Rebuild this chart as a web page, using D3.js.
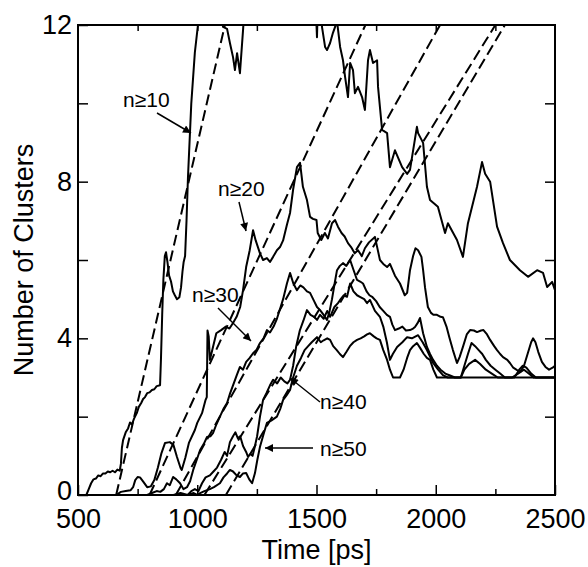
<!DOCTYPE html>
<html lang="en">
<head>
    <meta charset="UTF-8">
    <script src="https://cdn.jsdelivr.net/npm/d3@7"></script>
    <title>Number of Clusters</title>
    <style>
        body { margin: 0; background: #fff; }
        svg { display: block; font-family: "Liberation Sans", Arial, sans-serif; }
        .curve { fill: none; stroke: #000; stroke-width: 2px; stroke-linejoin: round; }
        .fit { fill: none; stroke: #000; stroke-width: 2px; stroke-dasharray: 11 5; }
        .frame { fill: none; stroke: #000; stroke-width: 2px; }
        .tick line { stroke: #000; stroke-width: 1.5px; }
    </style>
</head>
<body>
<script>
    /*------------------- data --------------------*/
    // time [ps], number of clusters
    const n10 = [[535,0],[545,0.15],[555,0.3],[565,0.4],[575,0.42],[585,0.5],[595,0.48],[605,0.55],[615,0.55],[625,0.6],
        [635,0.58],[645,0.62],[655,0.58],[665,0.65],[675,0.62],[680,0.8],[684,1.2],[689,1.4],[700,1.6],[710,1.7],[718,1.85],
        [726,1.8],[735,1.95],[747,2.1],[755,2.25],[765,2.35],[773,2.45],[781,2.5],[790,2.6],[800,2.62],[810,2.68],[820,2.7],
        [830,2.78],[844,2.8],[848,3.5],[853,4.6],[858,5.5],[864,6.1],[869,6.2],[875,5.95],[882,5.6],[890,5.45],[898,5.2],
        [906,5.1],[915,5.0],[925,5.05],[932,5.3],[938,5.7],[943,5.95],[949,6.1],[955,7.0],[961,8.1],[975,10.0],[990,11.3],
        [1003,12.0],[1008,12.6],[1100,12.6],[1108,11.95],[1125,11.9],[1137,11.54],[1150,11.18],[1158,10.85],[1167,11.28],
        [1179,10.77],[1192,11.87],[1200,12.6],[1496,12.6],[1502,11.69],[1506,12.6],[1518,12.4],[1523,11.95],[1536,11.44],
        [1544,11.36],[1557,11.54],[1569,11.8],[1578,11.95],[1586,12.1],[1599,11.44],[1611,11.1],[1620,10.67],[1632,10.16],
        [1641,11.03],[1653,10.85],[1661,10.26],[1674,10.42],[1691,10.16],[1703,9.83],[1716,11.1],[1724,11.36],[1737,11.03],
        [1754,11.1],[1758,10.42],[1775,9.32],[1796,9.24],[1808,8.37],[1829,8.8],[1859,8.37],[1880,8.2],[1892,8.3],[1921,9.4],
        [1926,9.24],[1947,8.99],[1963,7.87],[1976,7.53],[2009,7.36],[2039,6.69],[2051,6.94],[2089,6.51],[2114,6.08],[2135,6.94],
        [2173,7.87],[2194,8.5],[2207,8.2],[2228,8.0],[2257,6.85],[2282,6.43],[2311,6.0],[2353,5.74],[2387,5.57],[2425,5.74],
        [2450,5.67],[2467,5.31],[2488,5.44],[2500,5.23]];

    const n20 = [[660,0],[680,0.08],[700,0.1],[720,0.12],[731,0.2],[740,0.38],[750,0.46],[760,0.45],[775,0.33],[790,0.2],
        [805,0.22],[820,0.38],[835,0.7],[850,1.07],[865,1.33],[885,1.35],[900,1.28],[915,0.97],[930,0.69],[935,0.64],[950,0.95],
        [965,1.33],[990,1.66],[1000,1.84],[1020,2.09],[1035,2.43],[1040,2.5],[1043,4.2],[1048,4.05],[1053,3.45],[1063,3.7],
        [1080,4.13],[1100,4.21],[1120,4.3],[1135,4.25],[1150,4.39],[1165,4.55],[1180,4.8],[1192,5.23],[1205,5.82],[1220,6.25],
        [1234,6.76],[1245,6.5],[1263,6.17],[1276,6.0],[1292,6.05],[1305,5.95],[1318,6.08],[1334,6.25],[1347,6.33],[1360,6.5],
        [1376,6.9],[1389,7.2],[1402,7.8],[1418,8.37],[1431,8.48],[1443,7.87],[1460,7.53],[1473,7.1],[1485,7.05],[1500,7.02],
        [1505,6.69],[1520,6.51],[1535,6.69],[1548,6.55],[1565,6.94],[1578,7.02],[1590,6.85],[1605,6.69],[1618,6.6],[1632,6.43],
        [1645,6.33],[1660,6.17],[1674,6.25],[1690,6.1],[1703,6.3],[1720,6.45],[1745,6.59],[1766,6.0],[1780,5.9],[1796,5.82],
        [1808,5.9],[1829,5.6],[1850,5.4],[1870,5.1],[1880,5.16],[1892,5.74],[1905,6.1],[1915,6.3],[1926,6.25],[1940,6.08],
        [1947,5.74],[1955,5.3],[1967,4.8],[1980,4.65],[1990,4.6],[2005,4.6],[2020,4.55],[2030,4.54],[2045,4.3],[2058,4.0],
        [2072,3.7],[2089,3.37],[2100,3.52],[2115,3.8],[2130,4.1],[2144,4.21],[2160,4.2],[2173,4.16],[2190,4.2],[2200,4.21],
        [2215,4.1],[2228,3.96],[2245,3.8],[2257,3.7],[2270,3.6],[2282,3.52],[2300,3.45],[2311,3.37],[2325,3.25],[2341,3.19],
        [2355,3.15],[2370,3.3],[2385,3.6],[2400,3.9],[2408,4.0],[2418,3.9],[2430,3.65],[2445,3.4],[2460,3.27],[2475,3.2],
        [2490,3.25],[2500,3.3]];

    const n30 = [[790,0],[810,0.05],[830,0.1],[845,0.08],[860,0.15],[873,0.3],[885,0.25],[899,0.46],[912,0.4],[928,0.3],
        [942,0.15],[957,0.2],[970,0.35],[983,0.64],[998,0.9],[1012,1.15],[1027,1.3],[1041,1.48],[1055,1.5],[1066,1.58],
        [1080,1.8],[1095,2.0],[1110,2.2],[1125,2.35],[1138,2.6],[1150,2.8],[1165,3.05],[1179,3.27],[1192,3.2],[1205,3.4],
        [1220,3.5],[1234,3.62],[1248,3.7],[1263,3.88],[1278,4.0],[1292,4.21],[1305,4.15],[1320,4.3],[1334,4.5],[1347,4.75],
        [1360,5.0],[1376,5.4],[1389,5.67],[1403,5.4],[1418,5.23],[1432,5.35],[1445,5.3],[1460,5.2],[1473,5.16],[1490,4.95],
        [1502,4.8],[1515,4.72],[1530,4.6],[1544,4.47],[1555,4.7],[1565,5.0],[1576,5.4],[1586,5.74],[1598,5.85],[1611,5.92],
        [1625,5.85],[1641,6.0],[1655,5.75],[1670,5.49],[1683,5.45],[1695,5.4],[1710,5.2],[1722,5.1],[1735,5.05],[1750,4.95],
        [1765,4.8],[1780,4.7],[1795,4.6],[1808,4.55],[1818,4.35],[1829,4.21],[1845,4.25],[1860,4.3],[1875,4.2],[1892,4.21],
        [1905,4.25],[1913,4.29],[1925,4.4],[1934,4.52],[1947,4.13],[1963,3.78],[1976,3.6],[1989,3.45],[2005,3.3],[2020,3.2],
        [2040,3.1],[2060,3.05],[2080,3.0],[2105,3.0],[2120,3.3],[2135,3.6],[2150,3.88],[2165,3.8],[2180,3.7],[2195,3.6],
        [2210,3.45],[2230,3.3],[2250,3.2],[2270,3.1],[2290,3.0],[2330,3.0],[2350,3.2],[2365,3.3],[2380,3.25],[2400,3.1],
        [2420,3.0],[2500,3.0]];

    const n40 = [[900,0],[930,0.05],[960,0.0],[975,0.1],[990,0.15],[1005,0.1],[1020,0.3],[1035,0.45],[1053,0.5],[1068,0.6],
        [1083,0.7],[1100,0.9],[1115,1.1],[1125,1.0],[1137,1.35],[1150,1.5],[1160,1.6],[1170,1.45],[1180,1.5],[1192,1.25],
        [1205,1.1],[1213,0.97],[1222,1.05],[1232,1.0],[1240,1.2],[1251,1.5],[1263,2.0],[1276,2.43],[1290,2.6],[1305,2.8],
        [1318,2.94],[1335,2.85],[1350,3.0],[1365,2.9],[1378,2.85],[1389,2.94],[1402,3.3],[1415,3.8],[1430,4.2],[1445,4.45],
        [1460,4.72],[1475,4.6],[1490,4.55],[1502,4.47],[1515,4.6],[1530,4.5],[1545,4.7],[1557,4.55],[1575,4.8],[1590,4.9],
        [1599,4.98],[1614,5.1],[1628,5.06],[1641,5.4],[1655,5.2],[1670,5.1],[1682,5.06],[1700,5.0],[1712,4.9],[1724,4.98],
        [1745,4.7],[1766,4.55],[1780,4.3],[1795,3.9],[1808,3.45],[1820,3.6],[1838,3.78],[1860,3.9],[1880,4.03],[1900,4.0],
        [1926,4.08],[1945,3.9],[1963,3.7],[1975,3.55],[1989,3.37],[2010,3.2],[2030,3.06],[2050,3.0],[2105,3.0],[2120,3.2],
        [2140,3.35],[2165,3.45],[2185,3.35],[2210,3.2],[2235,3.1],[2260,3.0],[2320,3.0],[2345,3.1],[2370,3.2],[2390,3.1],
        [2410,3.0],[2500,3.0]];

    const n50 = [[960,0],[985,0.05],[1000,0.0],[1012,0.05],[1030,0.1],[1053,0.15],[1070,0.2],[1095,0.3],[1110,0.45],
        [1125,0.55],[1137,0.64],[1150,0.6],[1165,0.5],[1179,0.46],[1192,0.55],[1205,0.56],[1218,0.4],[1230,0.3],[1242,0.56],
        [1252,0.9],[1263,1.23],[1278,1.55],[1292,1.84],[1310,1.9],[1334,2.0],[1348,2.2],[1360,2.43],[1375,2.55],[1389,2.68],
        [1402,3.0],[1418,3.3],[1435,3.5],[1450,3.7],[1465,3.8],[1480,3.9],[1502,4.03],[1518,3.9],[1530,3.95],[1545,4.0],
        [1557,3.96],[1570,3.8],[1585,3.7],[1598,3.6],[1611,3.52],[1625,3.65],[1640,3.8],[1655,3.9],[1670,3.96],[1685,4.0],
        [1700,4.05],[1712,4.1],[1724,4.13],[1740,4.05],[1752,4.0],[1766,3.96],[1780,3.7],[1796,3.45],[1808,3.2],[1821,3.0],
        [1850,3.0],[1865,3.2],[1880,3.5],[1892,3.7],[1905,3.8],[1921,3.88],[1935,3.75],[1950,3.6],[1963,3.5],[1976,3.45],
        [1990,3.2],[2005,3.0],[2500,3.0]];

    // dashed linear fits: [start time at 0, time at 12]
    const fits = [[660,1116],[800,1705],[910,2018],[1030,2250],[1120,2290]];

    const xTicks = [500, 1000, 1500, 2000, 2500];
    const xMinor = [750, 1250, 1750, 2250];
    const yTicks = [0, 4, 8, 12];
    const yMinor = [2, 6, 10];

    // annotations: label, text position, arrow start, arrow tip
    const notes = [
        {t: "n≥10", x: 123, y: 107, a: [157, 113], b: [191, 133]},
        {t: "n≥20", x: 218, y: 196, a: [239, 202], b: [246, 231]},
        {t: "n≥30", x: 192, y: 302, a: [218, 308], b: [251, 341]},
        {t: "n≥40", x: 320, y: 409, a: [320, 402], b: [290, 378]},
        {t: "n≥50", x: 320, y: 456, a: [313, 448], b: [265, 448]}
    ];

    /*------------------- layout --------------------*/
    const W = 588, H = 567;
    const m = {left: 78, right: 33, top: 25, bottom: 72};

    const svg = d3.select("body").append("svg")
        .attr("width", W)
        .attr("height", H);

    const x = d3.scaleLinear().domain([500, 2500]).range([m.left, W - m.right]);
    const y = d3.scaleLinear().domain([0, 12]).range([H - m.bottom, m.top]);

    svg.append("clipPath").attr("id", "plot")
        .append("rect")
        .attr("x", x(500)).attr("y", y(12))
        .attr("width", x(2500) - x(500)).attr("height", y(0) - y(12));

    /*------------------- axes --------------------*/
    svg.append("g").attr("class", "axis")
        .attr("transform", `translate(0,${y(0)})`)
        .call(d3.axisBottom(x).tickValues(xTicks).tickSize(-10).tickPadding(14).tickFormat(d3.format("d")))
        .call(g => g.select(".domain").remove());
    svg.append("g").attr("class", "axis")
        .attr("transform", `translate(0,${y(0)})`)
        .call(d3.axisBottom(x).tickValues(xMinor).tickSize(-6).tickFormat(""))
        .call(g => g.select(".domain").remove());
    svg.append("g").attr("class", "axis")
        .attr("transform", `translate(0,${y(12)})`)
        .call(d3.axisTop(x).tickValues(xMinor.concat([1000, 1500, 2000])).tickSize(-6).tickFormat(""))
        .call(g => g.select(".domain").remove());

    svg.append("g").attr("class", "axis yaxis")
        .attr("transform", `translate(${x(500)},0)`)
        .call(d3.axisLeft(y).tickValues(yTicks).tickSize(-10).tickPadding(6).tickFormat(d3.format("d")))
        .call(g => g.select(".domain").remove());
    svg.append("g").attr("class", "axis")
        .attr("transform", `translate(${x(500)},0)`)
        .call(d3.axisLeft(y).tickValues(yMinor).tickSize(-10).tickFormat(""))
        .call(g => g.select(".domain").remove());
    svg.append("g").attr("class", "axis")
        .attr("transform", `translate(${x(2500)},0)`)
        .call(d3.axisRight(y).tickValues(yMinor.concat([4, 8])).tickSize(-10).tickFormat(""))
        .call(g => g.select(".domain").remove());

    svg.selectAll(".axis text")
        .attr("font-family", "Liberation Sans, Arial, sans-serif")
        .attr("font-size", 27)
        .attr("fill", "#000");

    // the "0" sits just above the "500" as in the figure
    svg.selectAll(".yaxis .tick text")
        .filter(d => d === 0)
        .attr("dy", "0.15em");

    svg.append("rect").attr("class", "frame")
        .attr("x", x(500)).attr("y", y(12))
        .attr("width", x(2500) - x(500)).attr("height", y(0) - y(12));

    svg.append("text")
        .attr("x", (x(500) + x(2500)) / 2).attr("y", 559)
        .attr("text-anchor", "middle")
        .attr("font-size", 27)
        .text("Time [ps]");

    svg.append("text")
        .attr("transform", `translate(33,${(y(0) + y(12)) / 2}) rotate(-90)`)
        .attr("text-anchor", "middle")
        .attr("font-size", 27)
        .text("Number of Clusters");

    /*------------------- lines --------------------*/
    const line = d3.line().x(d => x(d[0])).y(d => y(d[1]));
    const plot = svg.append("g").attr("clip-path", "url(#plot)");

    plot.selectAll(".fit")
        .data(fits)
        .enter().append("path")
        .attr("class", "fit")
        .attr("d", d => line([[d[0], 0], [d[1], 12]]));

    plot.selectAll(".curve")
        .data([n10, n20, n30, n40, n50])
        .enter().append("path")
        .attr("class", "curve")
        .attr("d", line);

    /*------------------- labels --------------------*/
    svg.append("defs").append("marker")
        .attr("id", "arrow")
        .attr("viewBox", "0 0 10 10")
        .attr("refX", 10).attr("refY", 5)
        .attr("markerWidth", 13).attr("markerHeight", 8)
        .attr("markerUnits", "userSpaceOnUse")
        .attr("orient", "auto")
        .append("path").attr("d", "M0,0L10,5L0,10z").attr("fill", "#000");

    svg.selectAll(".note")
        .data(notes)
        .enter().append("text")
        .attr("class", "note")
        .attr("x", d => d.x).attr("y", d => d.y)
        .attr("font-size", 21)
        .text(d => d.t);

    svg.selectAll(".arrow")
        .data(notes)
        .enter().append("line")
        .attr("class", "arrow")
        .attr("x1", d => d.a[0]).attr("y1", d => d.a[1])
        .attr("x2", d => d.b[0]).attr("y2", d => d.b[1])
        .attr("stroke", "#000").attr("stroke-width", 1.5)
        .attr("marker-end", "url(#arrow)");
</script>
</body>
</html>
